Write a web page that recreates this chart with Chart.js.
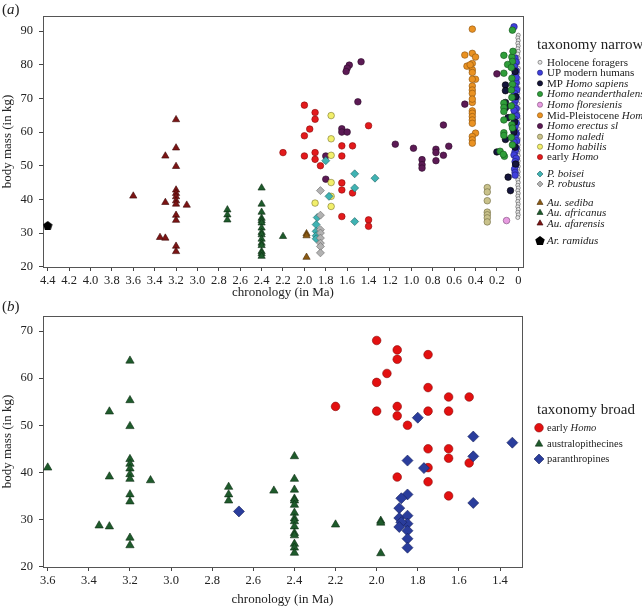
<!DOCTYPE html>
<html>
<head>
<meta charset="utf-8">
<title>body mass vs chronology</title>
<script src="https://cdn.jsdelivr.net/npm/chart.js"></script>
<style>
  body { margin: 0; background: #fff; }
  .panel { position: absolute; left: 0; }
  .tag { position: absolute; left: 2px; font: 15px "Liberation Serif", serif; color: #222; }
</style>
</head>
<body>
<div class="panel" style="top:0"><canvas id="chartA" width="642" height="300"></canvas></div>
<div class="panel" style="top:300px"><canvas id="chartB" width="642" height="307"></canvas></div>
<div class="tag" style="top:1px">(<i>a</i>)</div>
<div class="tag" style="top:298px">(<i>b</i>)</div>
<script>
// ---- panel (a): taxonomy narrow ----
var holoceneMa = [0, 0.005, 0, 0.005, 0, 0.005, 0, 0.005, 0, 0.005, 0, 0.005, 0, 0.005, 0, 0.005, 0, 0.005, 0, 0.005, 0, 0.005, 0, 0.005, 0, 0.005, 0, 0.005, 0, 0.005, 0, 0.005, 0, 0.005, 0, 0.005, 0, 0.005, 0, 0.005, 0, 0.005, 0, 0.005, 0, 0.005, 0, 0.005, 0, 0.005, 0, 0.005, 0, 0.005];
var holoceneKg = [88.8, 88.0, 87.2, 86.4, 85.6, 84.8, 84.0, 83.2, 82.0, 80.5, 79.0, 77.5, 76.0, 74.5, 73.0, 71.5, 70.0, 68.5, 67.0, 65.5, 64.0, 62.5, 61.0, 59.5, 58.0, 57.0, 56.2, 55.4, 54.6, 53.8, 53.0, 52.2, 51.4, 50.6, 49.8, 49.0, 48.2, 47.4, 46.6, 45.8, 45.0, 44.2, 43.4, 42.6, 41.8, 41.0, 40.2, 39.4, 38.6, 37.8, 37.0, 36.2, 35.4, 34.6];
var upMa = [0.04, 0.03, 0.02, 0.035, 0.02, 0.03, 0.04, 0.02, 0.03, 0.015, 0.035, 0.02, 0.03, 0.04, 0.02, 0.03, 0.015, 0.035, 0.02, 0.03, 0.04, 0.02, 0.03, 0.015, 0.035, 0.02, 0.03, 0.04, 0.02, 0.03, 0.025, 0.035, 0.03, 0.03, 0.02, 0.04, 0.025, 0.04];
var upKg = [91.3, 82.0, 80.8, 79.5, 78.2, 77.0, 75.8, 74.8, 73.6, 72.5, 71.5, 70.4, 69.2, 68.0, 67.0, 65.8, 64.8, 63.8, 62.7, 61.6, 60.5, 59.5, 58.5, 57.4, 56.3, 55.2, 54.2, 53.2, 52.2, 51.2, 50.1, 49.0, 48.0, 47.2, 76.2, 66.5, 60.0, 57.0];
var mpMa = [0.12, 0.12, 0.12, 0.12, 0.095, 0.12, 0.2, 0.095, 0.073, 0.03, 0.025, 0.035, 0.03, 0.04, 0.025];
var mpKg = [74.0, 72.3, 68.8, 67.2, 64.3, 57.8, 54.1, 46.6, 42.6, 78.0, 70.5, 63.0, 55.5, 60.0, 50.5];
var neandMa = [0.055, 0.135, 0.06, 0.055, 0.1, 0.065, 0.135, 0.06, 0.055, 0.065, 0.06, 0.135, 0.135, 0.135, 0.065, 0.06, 0.135, 0.06, 0.055, 0.135, 0.135, 0.065, 0.17, 0.13, 0.14, 0.055, 0.05];
var neandKg = [90.3, 82.8, 82.3, 81.0, 80.1, 79.2, 77.5, 76.0, 74.2, 72.5, 70.3, 68.6, 67.3, 66.1, 67.8, 64.5, 63.6, 62.2, 61.2, 59.8, 59.0, 58.4, 54.3, 52.8, 53.4, 56.2, 84.0];
var florMa = [0.11];
var florKg = [33.7];
var midMa = [0.43, 0.5, 0.43, 0.4, 0.43, 0.48, 0.43, 0.43, 0.4, 0.43, 0.43, 0.43, 0.43, 0.43, 0.43, 0.43, 0.43, 0.43, 0.43, 0.4, 0.43, 0.43, 0.43, 0.45, 0.43];
var midKg = [90.6, 82.9, 83.4, 82.3, 80.4, 79.6, 78.5, 77.7, 75.7, 75.7, 73.7, 72.5, 71.5, 68.8, 66.3, 65.6, 64.6, 63.6, 62.6, 59.7, 58.7, 57.7, 56.7, 80.0, 69.8];
var erectusMa = [1.47, 1.58, 1.6, 1.61, 1.5, 1.65, 1.65, 1.6, 1.15, 0.98, 0.77, 0.77, 0.65, 0.7, 0.7, 0.9, 0.9, 0.9, 0.77, 1.8, 1.8, 0.5, 0.2];
var erectusKg = [80.9, 79.9, 79.0, 78.0, 69.0, 61.0, 60.0, 60.0, 56.4, 55.2, 54.9, 53.9, 55.8, 62.1, 53.1, 51.8, 50.3, 49.3, 51.5, 52.9, 46.0, 68.3, 77.3];
var salediMa = [0.29, 0.29, 0.29, 0.29, 0.29, 0.29, 0.29];
var salediKg = [43.5, 42.2, 39.6, 36.2, 35.4, 34.5, 33.3];
var habilisMa = [1.75, 1.75, 1.75, 1.75, 1.75, 1.75, 1.9];
var habilisKg = [64.9, 58.0, 53.1, 45.0, 40.9, 37.9, 38.9];
var earlyMa = [2.0, 1.9, 1.9, 1.95, 2.0, 2.2, 2.0, 1.9, 1.9, 1.85, 1.4, 1.65, 1.55, 1.65, 1.65, 1.65, 1.55, 1.65, 1.4, 1.4];
var earlyKg = [68.0, 65.8, 63.8, 60.9, 58.9, 53.9, 52.9, 53.9, 51.9, 50.0, 61.9, 55.9, 55.9, 52.9, 44.9, 42.8, 41.9, 34.9, 33.9, 32.0];
var boiseiMa = [1.8, 1.77, 1.53, 1.53, 1.53, 1.34, 1.88, 1.89, 1.89, 1.89, 1.89];
var boiseiKg = [51.5, 40.9, 47.6, 43.4, 33.4, 46.3, 34.6, 32.5, 30.5, 29.2, 28.3];
var robustusMa = [1.85, 1.85, 1.85, 1.85, 1.85, 1.85, 1.85, 1.85];
var robustusKg = [42.6, 35.3, 31.0, 30.0, 28.5, 27.0, 26.0, 24.1];
var sedibaMa = [1.98, 1.98, 1.98];
var sedibaKg = [29.8, 29.2, 22.8];
var africanusMa = [2.72, 2.72, 2.72, 2.4, 2.4, 2.4, 2.4, 2.4, 2.4, 2.4, 2.4, 2.4, 2.4, 2.4, 2.4, 2.4, 2.4, 2.4, 2.2];
var africanusKg = [36.9, 35.4, 33.9, 43.4, 38.6, 36.2, 34.4, 33.7, 33.0, 31.5, 30.2, 29.5, 28.2, 27.0, 26.3, 24.5, 23.9, 23.1, 29.0];
var afarensisMa = [3.6, 3.35, 3.3, 3.3, 3.3, 3.2, 3.2, 3.2, 3.2, 3.2, 3.2, 3.2, 3.2, 3.2, 3.2, 3.2, 3.2, 3.1];
var afarensisKg = [41.0, 28.7, 52.9, 39.1, 28.5, 63.7, 55.3, 49.8, 42.8, 41.8, 40.8, 39.6, 38.6, 35.3, 33.8, 26.1, 24.5, 38.3];
var ramidusMa = [4.4];
var ramidusKg = [32.1];

var xTicksA = [4.4, 4.2, 4.0, 3.8, 3.6, 3.4, 3.2, 3.0, 2.8, 2.6, 2.4, 2.2, 2.0, 1.8, 1.6, 1.4, 1.2, 1.0, 0.8, 0.6, 0.4, 0.2, 0];
var yTicksA = [20, 30, 40, 50, 60, 70, 80, 90];

// ---- panel (b): taxonomy broad ----
var earlyBMa = [2.0, 1.9, 1.9, 1.75, 1.95, 2.0, 1.75, 1.65, 1.55, 2.2, 2.0, 1.9, 1.9, 1.75, 1.65, 1.85, 1.75, 1.65, 1.65, 1.75, 1.55, 1.9, 1.75, 1.65];
var earlyBKg = [68.0, 66.0, 64.0, 65.0, 61.0, 59.1, 58.0, 56.0, 56.0, 54.0, 53.0, 54.0, 52.0, 53.0, 53.0, 50.0, 45.0, 45.0, 43.0, 41.0, 42.0, 39.0, 38.0, 35.0];
var australBMa = [3.6, 3.35, 3.3, 3.3, 3.3, 3.2, 3.2, 3.2, 3.2, 3.2, 3.2, 3.2, 3.2, 3.2, 3.2, 3.2, 3.2, 3.1, 2.72, 2.72, 2.72, 2.5, 2.4, 2.4, 2.4, 2.4, 2.4, 2.4, 2.4, 2.4, 2.4, 2.4, 2.4, 2.4, 2.4, 2.4, 2.4, 2.2, 1.98, 1.98, 1.98];
var australBKg = [41.0, 28.7, 52.9, 39.1, 28.5, 63.7, 55.3, 49.8, 42.8, 41.8, 40.8, 39.6, 38.6, 35.3, 33.8, 26.1, 24.5, 38.3, 36.9, 35.3, 34.0, 36.1, 43.4, 38.6, 36.3, 34.4, 34.0, 33.1, 31.4, 30.2, 29.6, 28.5, 27.1, 26.6, 24.8, 24.0, 22.9, 28.9, 29.7, 29.3, 22.8];
var paranBMa = [1.8, 1.53, 1.34, 1.53, 1.85, 1.77, 1.53, 1.85, 1.88, 1.89, 1.89, 1.85, 1.85, 1.88, 1.89, 1.85, 1.85, 1.85, 2.67];
var paranBKg = [51.6, 47.6, 46.3, 43.4, 42.5, 40.9, 33.5, 35.3, 34.5, 32.4, 30.3, 30.8, 29.1, 29.4, 28.4, 27.6, 25.9, 24.0, 31.7];

var xTicksB = [3.6, 3.4, 3.2, 3.0, 2.8, 2.6, 2.4, 2.2, 2.0, 1.8, 1.6, 1.4];
var yTicksB = [20, 30, 40, 50, 60, 70];

var FONT = '"Liberation Serif", "Times New Roman", serif';
Chart.defaults.font.family = FONT;
Chart.defaults.color = '#222';

function pts(xs, ys) {
    return xs.map(function (x, i) { return { x: x, y: ys[i] }; });
}

function pentagon(r, fill) {
    var c = document.createElement('canvas');
    var s = Math.ceil(r * 2 + 2);
    c.width = s; c.height = s;
    var g = c.getContext('2d');
    g.beginPath();
    for (var k = 0; k < 5; k++) {
        var a = -Math.PI / 2 + k * 2 * Math.PI / 5;
        g.lineTo(s / 2 + r * Math.cos(a), s / 2 + r * Math.sin(a));
    }
    g.closePath();
    g.fillStyle = fill;
    g.fill();
    return c;
}

function series(xs, ys, style, r, bg, border) {
    return {
        data: pts(xs, ys), pointStyle: style, pointRadius: r, pointHoverRadius: r,
        backgroundColor: bg, borderColor: border, borderWidth: 0.6
    };
}

function fmt(v) { return v === 0 ? '0' : v.toFixed(1); }

// draws the box round the plot
var boxPlugin = {
    id: 'box',
    beforeDatasetsDraw: function (chart) {
        var a = chart.chartArea, ctx = chart.ctx;
        ctx.save();
        ctx.strokeStyle = '#555';
        ctx.lineWidth = 1;
        ctx.strokeRect(Math.round(a.left) + 0.5, Math.round(a.top) + 0.5, Math.round(a.right - a.left), Math.round(a.bottom - a.top));
        ctx.restore();
    }
};

// legend at the side, with gaps and italic parts (*...*)
var sideLegend = {
    id: 'sideLegend',
    afterDraw: function (chart, args, o) {
        var ctx = chart.ctx;
        ctx.save();
        ctx.textBaseline = 'middle';
        ctx.textAlign = 'left';
        ctx.fillStyle = '#222';
        ctx.font = o.titleSize + 'px ' + FONT;
        ctx.fillText(o.title, o.titleX, o.titleY);
        o.items.forEach(function (it) {
            var ds = chart.data.datasets[it.ds];
            ctx.fillStyle = ds.backgroundColor;
            ctx.strokeStyle = ds.borderColor;
            ctx.lineWidth = ds.borderWidth;
            Chart.helpers.drawPoint(ctx, { pointStyle: ds.pointStyle, radius: it.r, rotation: 0, borderWidth: ds.borderWidth }, o.markX, it.y);
            ctx.fillStyle = '#222';
            var x = o.textX;
            it.text.split('*').forEach(function (seg, j) {
                ctx.font = (j % 2 ? 'italic ' : '') + o.size + 'px ' + FONT;
                ctx.fillText(seg, x, it.y + 0.5);
                x += ctx.measureText(seg).width;
            });
        });
        ctx.restore();
    }
};

function axes(xmin, xmax, xTicks, ymin, ymax, yTicks, xh) {
    return {
        x: {
            type: 'linear', reverse: true, min: xmin, max: xmax,
            afterBuildTicks: function (s) { s.ticks = xTicks.map(function (v) { return { value: v }; }); },
            afterFit: function (s) { s.height = xh; },
            ticks: { autoSkip: false, maxRotation: 0, padding: 2, font: { size: 12.5 }, color: '#222', callback: fmt },
            grid: { drawOnChartArea: false, drawTicks: true, tickLength: 4, color: '#444' },
            border: { display: false },
            title: { display: true, text: 'chronology (in Ma)', font: { size: 13 }, color: '#222', padding: 0 }
        },
        y: {
            type: 'linear', min: ymin, max: ymax,
            afterBuildTicks: function (s) { s.ticks = yTicks.map(function (v) { return { value: v }; }); },
            afterFit: function (s) { s.width = 43; },
            ticks: { padding: 6, font: { size: 12.5 }, color: '#222' },
            grid: { drawOnChartArea: false, drawTicks: true, tickLength: 4, color: '#444' },
            border: { display: false },
            title: { display: true, text: 'body mass (in kg)', font: { size: 13 }, color: '#222', padding: 0 }
        }
    };
}

var dsA = [
    series(holoceneMa, holoceneKg, 'circle', 2, '#e6e6e6', '#555555'),
    series(upMa, upKg, 'circle', 3.3, '#3f3fdc', '#202070'),
    series(mpMa, mpKg, 'circle', 3.3, '#15153d', '#000000'),
    series(neandMa, neandKg, 'circle', 3.3, '#2f9e3a', '#14501c'),
    series(florMa, florKg, 'circle', 3.3, '#e79be0', '#7a4a78'),
    series(midMa, midKg, 'circle', 3.3, '#ea9222', '#8a5210'),
    series(erectusMa, erectusKg, 'circle', 3.3, '#5c1a55', '#2c0a28'),
    series(salediMa, salediKg, 'circle', 3.3, '#c9c28b', '#6d6840'),
    series(habilisMa, habilisKg, 'circle', 3.3, '#f2ef6a', '#7a7630'),
    series(earlyMa, earlyKg, 'circle', 3.3, '#e31a1c', '#8a0a0a'),
    series(boiseiMa, boiseiKg, 'rectRot', 4, '#3fb3b3', '#1d6060'),
    series(robustusMa, robustusKg, 'rectRot', 4, '#b2b2b2', '#666666'),
    series(sedibaMa, sedibaKg, 'triangle', 4.2, '#8b5a12', '#4a2e08'),
    series(africanusMa, africanusKg, 'triangle', 4.2, '#1e5b2b', '#0e2e14'),
    series(afarensisMa, afarensisKg, 'triangle', 4.2, '#7c1414', '#3d0808'),
    series(ramidusMa, ramidusKg, pentagon(5, '#000'), 5, '#000000', '#000000')
];
dsA.forEach(function (d, i) { d.order = 20 - i; });

var legendA = [
    ['Holocene foragers', 62.3, 2], ['UP modern humans', 72.7, 2.6], ['MP *Homo sapiens*', 83.3, 2.6],
    ['*Homo neanderthalensis*', 94, 2.6], ['*Homo floresienis*', 104.7, 2.6], ['Mid-Pleistocene *Homo*', 115.3, 2.6],
    ['*Homo erectus sl*', 126, 2.6], ['*Homo naledi*', 136.7, 2.6], ['*Homo habilis*', 146.7, 2.6],
    ['early *Homo*', 157, 2.6], ['*P. boisei*', 174, 3], ['*P. robustus*', 184, 3],
    ['*Au. sediba*', 202.7, 3.5], ['*Au. africanus*', 212.7, 3.5], ['*Au. afarensis*', 223.3, 3.5],
    ['*Ar. ramidus*', 241, 4.5]
].map(function (e, i) { return { text: e[0], y: e[1], r: e[2], ds: i }; });

new Chart(document.getElementById('chartA'), {
    type: 'scatter',
    data: { datasets: dsA },
    options: {
        responsive: false, animation: false, devicePixelRatio: 1,
        layout: { padding: { top: 16, right: 119, left: 0, bottom: 0 } },
        scales: axes(-0.044, 4.444, xTicksA, 19.9, 94.5, yTicksA, 33),
        plugins: {
            legend: { display: false }, tooltip: { enabled: false },
            sideLegend: { title: 'taxonomy narrow', titleSize: 15, titleX: 537, titleY: 45, markX: 540, textX: 547, size: 11, items: legendA }
        }
    },
    plugins: [boxPlugin, sideLegend]
});

var dsB = [
    series(earlyBMa, earlyBKg, 'circle', 4.3, '#e31010', '#8a0a0a'),
    series(australBMa, australBKg, 'triangle', 4.8, '#1e5b2b', '#0e2e14'),
    series(paranBMa, paranBKg, 'rectRot', 5.5, '#2a3d9c', '#15205a')
];
dsB.forEach(function (d, i) { d.order = 5 - i; });

new Chart(document.getElementById('chartB'), {
    type: 'scatter',
    data: { datasets: dsB },
    options: {
        responsive: false, animation: false, devicePixelRatio: 1,
        layout: { padding: { top: 16, right: 120, left: 0, bottom: 0 } },
        scales: axes(1.293, 3.623, xTicksB, 19.9, 73.2, yTicksB, 40),
        plugins: {
            legend: { display: false }, tooltip: { enabled: false },
            sideLegend: {
                title: 'taxonomy broad', titleSize: 15, titleX: 537, titleY: 110, markX: 539, textX: 547, size: 10.5,
                items: [
                    { text: 'early *Homo*', y: 127.7, r: 4.3, ds: 0 },
                    { text: 'australopithecines', y: 144, r: 4.3, ds: 1 },
                    { text: 'paranthropines', y: 159, r: 5, ds: 2 }
                ]
            }
        }
    },
    plugins: [boxPlugin, sideLegend]
});
</script>
</body>
</html>
